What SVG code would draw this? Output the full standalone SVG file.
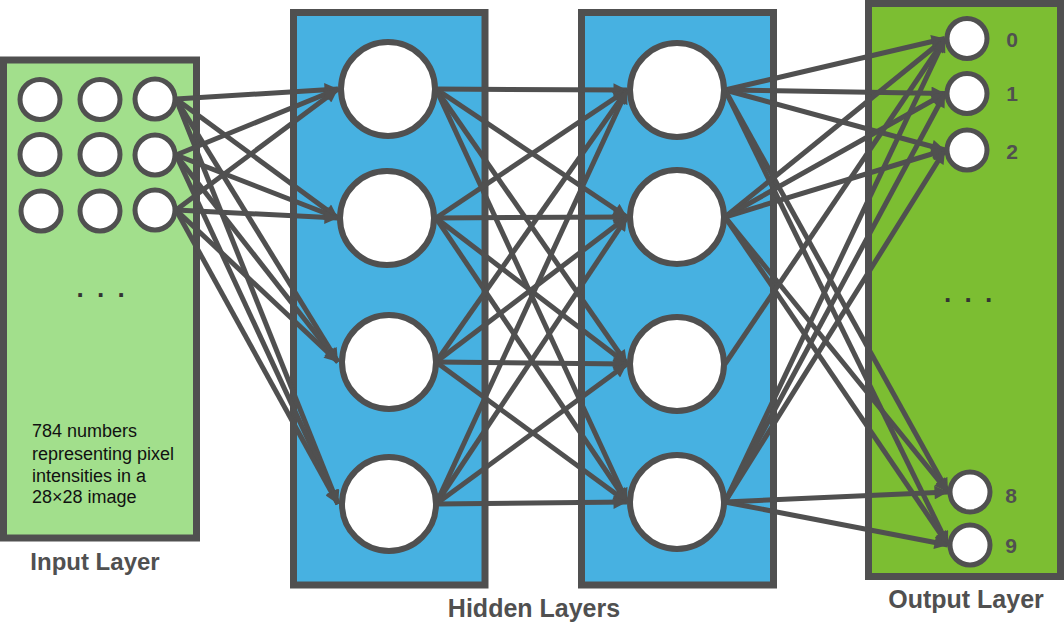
<svg xmlns="http://www.w3.org/2000/svg" width="1064" height="641" viewBox="0 0 1064 641">
<style>
.box{stroke:#505050;stroke-width:7}
.in{fill:#A2DF8C}
.hid{fill:#47B1E1}
.out{fill:#7CBE32}
.n{fill:#fff;stroke:#505050}
.ns{stroke-width:5}
.nb{stroke-width:6}
.c line{stroke:#505050;stroke-width:5;marker-end:url(#ah)}
.lbl{font-family:"Liberation Sans",Arial,sans-serif;font-weight:bold;fill:#505050;text-anchor:middle}
.desc{font-family:"Liberation Sans",Arial,sans-serif;font-size:18px;fill:#111}
.dots{font-family:"Liberation Sans",Arial,sans-serif;font-size:26px;font-weight:bold;fill:#333}
.dig{font-family:"Liberation Sans",Arial,sans-serif;font-weight:bold;font-size:21px;fill:#505050;text-anchor:middle}
</style>
<defs>
<marker id="ah" viewBox="0 0 10 10" refX="10" refY="5" markerWidth="3" markerHeight="2.7" orient="auto">
<path d="M0,0 L10,5 L0,10 z" fill="#505050"/>
</marker>
</defs>
<g id="layers">
<rect id="input-layer" class="box in" x="3.5" y="60" width="193" height="478"/>
<rect id="hidden-layer-1" class="box hid" x="293.5" y="12.5" width="191.5" height="572.5"/>
<rect id="hidden-layer-2" class="box hid" x="581.5" y="12.5" width="192" height="572.5"/>
<rect id="output-layer" class="box out" x="868.5" y="3.5" width="192" height="573"/>
</g>
<g id="connectors" class="c">
<line x1="176" y1="99" x2="338" y2="89"/>
<line x1="176" y1="99" x2="338" y2="218"/>
<line x1="176" y1="99" x2="338" y2="362"/>
<line x1="176" y1="99" x2="338" y2="504"/>
<line x1="176" y1="155" x2="338" y2="89"/>
<line x1="176" y1="155" x2="338" y2="218"/>
<line x1="176" y1="155" x2="338" y2="362"/>
<line x1="176" y1="155" x2="338" y2="504"/>
<line x1="176" y1="210" x2="338" y2="89"/>
<line x1="176" y1="210" x2="338" y2="218"/>
<line x1="176" y1="210" x2="338" y2="362"/>
<line x1="176" y1="210" x2="338" y2="504"/>
<line x1="436" y1="89" x2="627" y2="90"/>
<line x1="436" y1="89" x2="627" y2="217"/>
<line x1="436" y1="89" x2="627" y2="364"/>
<line x1="436" y1="89" x2="627" y2="502"/>
<line x1="436" y1="218" x2="627" y2="90"/>
<line x1="436" y1="218" x2="627" y2="217"/>
<line x1="436" y1="218" x2="627" y2="364"/>
<line x1="436" y1="218" x2="627" y2="502"/>
<line x1="436" y1="362" x2="627" y2="90"/>
<line x1="436" y1="362" x2="627" y2="217"/>
<line x1="436" y1="362" x2="627" y2="364"/>
<line x1="436" y1="362" x2="627" y2="502"/>
<line x1="436" y1="504" x2="627" y2="90"/>
<line x1="436" y1="504" x2="627" y2="217"/>
<line x1="436" y1="504" x2="627" y2="364"/>
<line x1="436" y1="504" x2="627" y2="502"/>
<line x1="725" y1="90" x2="945" y2="38.5"/>
<line x1="725" y1="90" x2="945" y2="93.5"/>
<line x1="725" y1="90" x2="945" y2="150"/>
<line x1="725" y1="90" x2="948" y2="492"/>
<line x1="725" y1="90" x2="948" y2="545"/>
<line x1="725" y1="217" x2="945" y2="38.5"/>
<line x1="725" y1="217" x2="945" y2="93.5"/>
<line x1="725" y1="217" x2="945" y2="150"/>
<line x1="725" y1="217" x2="948" y2="492"/>
<line x1="725" y1="217" x2="948" y2="545"/>
<line x1="725" y1="364" x2="945" y2="38.5"/>
<line x1="725" y1="502" x2="945" y2="38.5"/>
<line x1="725" y1="502" x2="945" y2="93.5"/>
<line x1="725" y1="502" x2="945" y2="150"/>
<line x1="725" y1="502" x2="948" y2="492"/>
<line x1="725" y1="502" x2="948" y2="545"/>
</g>
<g id="input-nodes">
<g id="in-1-1"><circle class="n ns" cx="40" cy="99.5" r="20"/></g>
<g id="in-1-2"><circle class="n ns" cx="100" cy="99.5" r="20"/></g>
<g id="in-1-3"><circle class="n ns" cx="155" cy="99" r="20"/></g>
<g id="in-2-1"><circle class="n ns" cx="40" cy="154.5" r="20"/></g>
<g id="in-2-2"><circle class="n ns" cx="100" cy="154.5" r="20"/></g>
<g id="in-2-3"><circle class="n ns" cx="155" cy="155" r="20"/></g>
<g id="in-3-1"><circle class="n ns" cx="41" cy="211" r="20"/></g>
<g id="in-3-2"><circle class="n ns" cx="100" cy="211" r="20"/></g>
<g id="in-3-3"><circle class="n ns" cx="155" cy="210" r="20"/></g>
</g>
<g id="h1-nodes">
<g id="h1-1"><circle class="n nb" cx="388" cy="89" r="47"/></g>
<g id="h1-2"><circle class="n nb" cx="387" cy="218" r="47"/></g>
<g id="h1-3"><circle class="n nb" cx="389" cy="362" r="47"/></g>
<g id="h1-4"><circle class="n nb" cx="389" cy="504" r="47"/></g>
</g>
<g id="h2-nodes">
<g id="h2-1"><circle class="n nb" cx="677" cy="90" r="47"/></g>
<g id="h2-2"><circle class="n nb" cx="677" cy="217" r="47"/></g>
<g id="h2-3"><circle class="n nb" cx="677" cy="364" r="47"/></g>
<g id="h2-4"><circle class="n nb" cx="677" cy="502" r="47"/></g>
</g>
<g id="output-nodes">
<g id="out-0"><circle class="n ns" cx="967" cy="38.5" r="20"/><text class="dig" x="1012" y="47">0</text></g>
<g id="out-1"><circle class="n ns" cx="967" cy="93.5" r="20"/><text class="dig" x="1012" y="101">1</text></g>
<g id="out-2"><circle class="n ns" cx="967" cy="150" r="20"/><text class="dig" x="1012" y="159">2</text></g>
<g id="out-8"><circle class="n ns" cx="970" cy="492" r="20"/><text class="dig" x="1011" y="503">8</text></g>
<g id="out-9"><circle class="n ns" cx="970" cy="545" r="20"/><text class="dig" x="1011" y="553">9</text></g>
</g>
<g id="texts">
<text class="dots" x="76.5" y="304" letter-spacing="2.3">· · ·</text>
<text class="dots" x="944" y="309" letter-spacing="2.3">· · ·</text>
<text class="desc" x="32" y="437">784 numbers</text>
<text class="desc" x="32" y="460">representing pixel</text>
<text class="desc" x="32" y="482">intensities in a</text>
<text class="desc" x="32" y="503">28×28 image</text>
<text class="lbl" x="95" y="570" font-size="24">Input Layer</text>
<text class="lbl" x="534" y="617" font-size="25">Hidden Layers</text>
<text class="lbl" x="966" y="608" font-size="25">Output Layer</text>
</g>
</svg>
